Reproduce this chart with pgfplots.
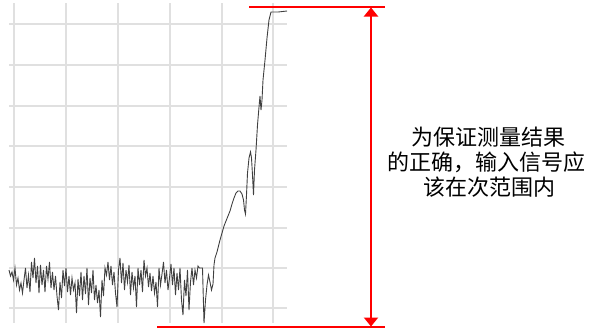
\documentclass[border=0pt]{standalone}
\usepackage{pgfplots}
\pgfplotsset{compat=1.18}
\usepackage{fontspec}
\newfontfamily\cjk{Noto Sans CJK SC}
\usetikzlibrary{arrows.meta}
\begin{document}
\begin{tikzpicture}
\path[use as bounding box] (0bp,0bp) rectangle (594bp,-331bp);
\begin{axis}[
  at={(9bp,-323bp)}, anchor=south west,
  width=278bp, height=320bp, scale only axis,
  xmin=9, xmax=287, ymin=3, ymax=323, y dir=reverse,
  xtick={14,66,118,170,222,273},
  ytick={24,65,106,146,187,228,268,308},
  xticklabels={}, yticklabels={},
  axis line style={draw=none}, tick style={draw=none},
  grid=major, grid style={black!12, line width=1.2bp},
  clip=false,
]
\addplot[black!75, line width=0.9bp] coordinates {
(9,270)(10.5,276)(12,272)(13.5,280)(15,268)(16.5,285)(18,278)(19.5,290)(21,283)(22.5,293)
(24,280)(25.5,268)(27,288)(28.5,275)(30,292)(31.5,262)(33,278)(34.5,258)(36,283)(37.5,266)
(39,293)(40.5,265)(42,285)(43.5,270)(45,292)(46.5,266)(48,279)(49.5,262)(51,288)(52.5,272)
(54,290)(55.5,276)(57,296)(58.5,310)(60,282)(61.5,298)(63,270)(64.5,286)(66,268)(67.5,292)
(69,276)(70.5,295)(72,278)(73.5,290)(75,283)(76.5,313)(78,279)(79.5,296)(81,272)(82.5,300)
(84,276)(85.5,294)(87,268)(88.5,305)(90,278)(91.5,293)(93,270)(94.5,300)(96,285)(97.5,303)
(99,290)(100.5,317)(102,280)(103.5,296)(105,268)(106.5,275)(108,262)(109.5,280)(111,266)(112.5,285)
(114,272)(115.5,293)(117,307)(118.5,270)(120,258)(121.5,283)(123,263)(124.5,290)(126,270)(127.5,282)
(129,265)(130.5,295)(132,272)(133.5,288)(135,276)(136.5,307)(138,268)(139.5,285)(141,270)(142.5,292)
(144,260)(145.5,276)(147,268)(148.5,287)(150,273)(151.5,291)(153,276)(154.5,293)(156,282)(157.5,307)
(159,268)(160.5,285)(162,274)(163.5,262)(165,283)(166.5,270)(168,290)(169.5,278)(171,264)(172.5,285)
(174,268)(175.5,295)(177,273)(178.5,290)(180,268)(181.5,300)(183,315)(184.5,280)(186,296)(187.5,270)
(189,310)(190.5,282)(192,268)(193.5,285)(195,270)(196.5,278)(198,266)(199.5,268)(201,268)(202.5,268)
(204,323)(205.5,300)(207,285)(208.5,275)(210,282)(211.5,290)(213,284)(214,265)(215,258)(217,252)
(218,248)(220,240)(222,233)(224,226)(226,221)(228,216)(230,211)(232,204)(234,198)(236,193)
(238,191)(240,191)(242,194)(243.5,200)(244.5,210)(245.5,214)(246.5,195)(247.5,173)(249,158)(250.5,152)
(251.5,158)(252.5,175)(253.5,195)(254.5,170)(256,150)(257.5,125)(259,107)(260,96)(261,110)(262,100)
(263,80)(265,60)(267,38)(269,20)(271,12)(278,12)(287,11)
};
\end{axis}
\draw[red, line width=1.3bp] (249bp,-7bp) -- (385bp,-7bp);
\draw[red, line width=1.3bp] (157bp,-327bp) -- (385bp,-327bp);
\draw[red, line width=2.6bp, {Triangle[length=9bp,width=14bp]}-{Triangle[length=9bp,width=14bp]}] (371bp,-7.5bp) -- (371bp,-326.5bp);
\node[font=\cjk\fontsize{22bp}{25bp}\selectfont, inner sep=0pt] at (488bp,-137.5bp) {为保证测量结果};
\node[font=\cjk\fontsize{22bp}{25bp}\selectfont, inner sep=0pt] at (486bp,-162.5bp) {的正确，输入信号应};
\node[font=\cjk\fontsize{22bp}{25bp}\selectfont, inner sep=0pt] at (489bp,-187.5bp) {该在次范围内};
\end{tikzpicture}
\end{document}
